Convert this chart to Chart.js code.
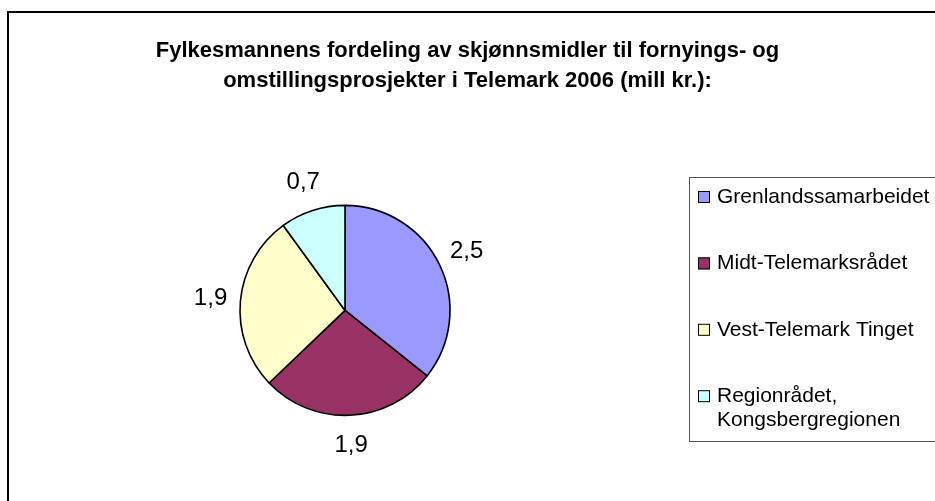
<!DOCTYPE html>
<html>
<head>
<meta charset="utf-8">
<script src="https://cdn.jsdelivr.net/npm/chart.js@4"></script>
<style>
  html, body { margin: 0; padding: 0; background: #fff; }
</style>
</head>
<body>
<canvas id="chart" width="935" height="501"></canvas>
<script>
(function () {

  var titleLines = ['Fylkesmannens fordeling av skjønnsmidler til fornyings- og', 'omstillingsprosjekter i Telemark 2006 (mill kr.):'];
  var regions = ['Grenlandssamarbeidet', 'Midt-Telemarksrådet', 'Vest-Telemark Tinget', ['Regionrådet,', 'Kongsbergregionen']];
  var amounts = [2.5, 1.9, 1.9, 0.7];
  var colors = ['#9999ff', '#993366', '#ffffcc', '#ccffff'];

  var font = "'Liberation Sans', Arial, sans-serif";
  var ctx = document.getElementById('chart').getContext('2d');

  var formatValue = function (v) {
    return v.toFixed(1).replace('.', ',');
  };

  // frame round the whole chart (cut by the window on right/bottom)
  var framePlugin = {
    id: 'frame',
    beforeDraw: function (chart) {
      var c = chart.ctx;
      c.save();
      c.strokeStyle = '#000';
      c.lineWidth = 2;
      c.strokeRect(8, 12, chart.width + 20, chart.height + 20);
      c.restore();
    }
  };

  var drawLegend = function (chart, box) {
    var c = chart.ctx;
    var mid = (chart.chartArea.top + chart.chartArea.bottom) / 2;
    var top = Math.round(mid - 133);
    c.save();
    c.strokeStyle = '#555';
    c.lineWidth = 1;
    c.strokeRect(box.left - 0.5, top + 0.5, box.width + 20, 264);
    c.font = '21px ' + font;
    c.textBaseline = 'middle';
    c.textAlign = 'left';
    chart.data.labels.forEach(function (label, i) {
      var y = top + 20 + i * 66.4;
      c.fillStyle = chart.data.datasets[0].backgroundColor[i];
      c.fillRect(box.left + 8, y - 6, 12, 12);
      c.strokeStyle = '#000';
      c.strokeRect(box.left + 8.5, y - 5.5, 11, 11);
      c.fillStyle = '#000';
      var lines = Array.isArray(label) ? label : [label];
      lines.forEach(function (line, j) {
        c.fillText(line, box.left + 27, y + j * 24);
      });
    });
    c.restore();
  };

  // reserves the right-hand side for the legend, title stays full width
  var sideLegend = {
    id: 'sideLegend',
    beforeInit: function (chart) {
      var box = {
        position: 'right',
        weight: 0,
        fullSize: false,
        options: {},
        width: 0,
        height: 0,
        isHorizontal: function () { return false; },
        update: function (maxW, maxH) {
          this.width = 245;
          this.height = maxH;
        },
        draw: function () { drawLegend(chart, this); }
      };
      Chart.layouts.addBox(chart, box);
    }
  };

  var valueLabels = {
    id: 'valueLabels',
    afterDatasetsDraw: function (chart) {
      var c = chart.ctx;
      var meta = chart.getDatasetMeta(0);
      c.save();
      c.font = '24px ' + font;
      c.fillStyle = '#000';
      c.textAlign = 'center';
      c.textBaseline = 'middle';
      meta.data.forEach(function (arc, i) {
        var p = arc.getProps(['x', 'y', 'startAngle', 'endAngle', 'outerRadius'], true);
        var a = (p.startAngle + p.endAngle) / 2;
        var r = p.outerRadius + 30;
        c.fillText(formatValue(amounts[i]), p.x + Math.cos(a) * r, p.y + Math.sin(a) * r);
      });
      c.restore();
    }
  };

  new Chart(ctx, {
    type: 'pie',
    data: {
      labels: regions,
      datasets: [{
        data: amounts,
        backgroundColor: colors,
        borderColor: '#000',
        borderWidth: 1.6,
        radius: 105
      }]
    },
    options: {
      responsive: false,
      animation: false,
      events: [],
      layout: { padding: { top: 12, bottom: 18, left: 0, right: 0 } },
      plugins: {
        legend: { display: false },
        tooltip: { enabled: false },
        title: {
          display: true,
          text: titleLines,
          color: '#000',
          font: { family: font, size: 22, weight: 'bold', lineHeight: 1.36 },
          padding: { top: 24, bottom: 42 }
        }
      }
    },
    plugins: [framePlugin, sideLegend, valueLabels]
  });

})();
</script>
</body>
</html>
